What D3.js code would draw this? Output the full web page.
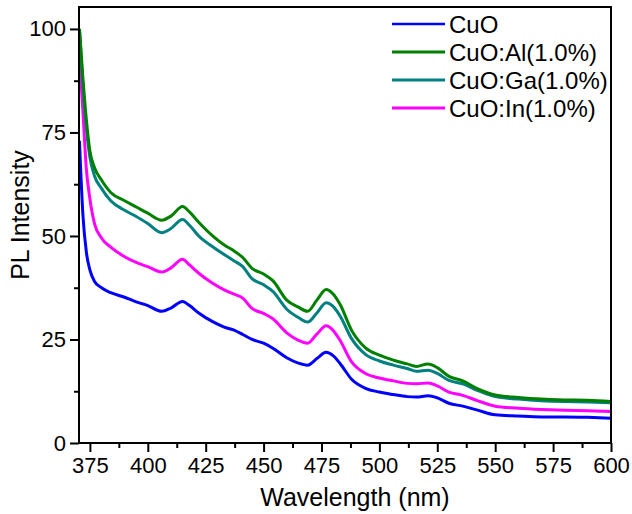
<!DOCTYPE html>
<html>
<head>
<meta charset="utf-8">
<script src="https://cdn.jsdelivr.net/npm/d3@7"></script>
<style>
  html, body { margin: 0; padding: 0; background: #fff; }
  svg { display: block; }
  text { font-family: "Liberation Sans", Arial, sans-serif; fill: #000; }
</style>
</head>
<body>
<svg id="chart" width="632" height="514"></svg>
<script>
// ---- data ----
const wavelengths = [370.5, 372, 373.5, 375, 377, 380, 384, 390, 395, 400, 406, 410, 415, 418, 422, 428, 433, 437, 441, 445, 450, 454, 460, 465, 469, 473, 477, 480, 483, 488, 494, 500, 506, 512, 516, 521, 525, 530, 536, 542, 550, 560, 570, 580, 590, 600];

const cuo = [73, 55, 46, 41.8, 39, 37.5, 36.3, 35.2, 34.1, 33.2, 31.8, 32.6, 34.2, 33.2, 31.4, 29.3, 28, 27.3, 26.2, 25, 24.1, 22.9, 20.6, 19.3, 18.8, 20.4, 21.9, 21.1, 19.2, 15.4, 13.2, 12.3, 11.7, 11.2, 11.1, 11.4, 10.9, 9.6, 8.9, 8, 6.8, 6.5, 6.3, 6.3, 6.2, 6];

const cuoAl = [100, 88, 78, 70.5, 66.5, 63.5, 60.5, 58.5, 57, 55.5, 53.8, 54.8, 57.1, 55.8, 53.3, 50, 47.8, 46.5, 44.8, 42.2, 40.8, 39.2, 34.5, 32.8, 31.8, 34.5, 37.1, 36, 33.5, 27.2, 23, 21.2, 20, 19.1, 18.5, 19.1, 18.2, 16.1, 15, 13.2, 11.6, 11, 10.6, 10.4, 10.3, 10];

const cuoGa = [100, 86, 76, 69, 64.5, 61.5, 58.5, 56.2, 54.7, 53, 50.8, 51.8, 54, 52.6, 50, 47.4, 45.5, 44.1, 42.6, 39.7, 38.2, 36.6, 32.3, 30.3, 29.2, 31.4, 33.9, 33, 30.7, 25.2, 21.4, 19.8, 18.8, 18, 17.3, 17.6, 16.8, 15.1, 14.3, 12.8, 11.2, 10.6, 10.2, 10, 9.9, 9.7];

const cuoIn = [93, 80, 66, 59, 53, 49.5, 47.3, 45, 43.6, 42.6, 41.3, 42.3, 44.4, 43, 41, 38.6, 37, 36, 35, 32.5, 31.3, 30, 26.6, 24.8, 24.1, 26.3, 28.3, 27.2, 24.8, 19.6, 16.8, 15.7, 15, 14.4, 14.3, 14.5, 13.8, 12.3, 11.5, 10.3, 8.9, 8.4, 8.1, 7.9, 7.8, 7.6];

const seriesNames = ["CuO", "CuO:Al(1.0%)", "CuO:Ga(1.0%)", "CuO:In(1.0%)"];
const seriesValues = [cuo, cuoAl, cuoGa, cuoIn];
const seriesColors = ["#0000ff", "#008000", "#008080", "#ff00ff"];

const xTicks = [375, 400, 425, 450, 475, 500, 525, 550, 575, 600];
const xMinorTicks = [387.5, 412.5, 437.5, 462.5, 487.5, 512.5, 537.5, 562.5, 587.5];
const yTicks = [0, 25, 50, 75, 100];
const yMinorTicks = [12.5, 37.5, 62.5, 87.5];

// ---- layout ----
const W = 632, H = 514;
const margin = { left: 79, right: 21, top: 7, bottom: 71 };
const iw = W - margin.left - margin.right;
const ih = H - margin.top - margin.bottom;

const svg = d3.select("#chart");
const g = svg.append("g").attr("transform", `translate(${margin.left},${margin.top})`);

const x = d3.scaleLinear().domain([370.3, 600]).range([0, iw]);
const y = d3.scaleLinear().domain([0, 105.3]).range([ih, 0]);

// clip
svg.append("defs").append("clipPath").attr("id", "clip")
  .append("rect").attr("x", 0).attr("y", 0).attr("width", iw).attr("height", ih);

// lines
const line = d3.line()
  .x((d, i) => x(wavelengths[i]))
  .y(d => y(d))
  .curve(d3.curveMonotoneX);

const plot = g.append("g").attr("clip-path", "url(#clip)");
// draw order: CuO, In, Ga, Al (Al on top)
[0, 3, 2, 1].forEach(k => {
  plot.append("path")
    .datum(seriesValues[k])
    .attr("fill", "none")
    .attr("stroke", seriesColors[k])
    .attr("stroke-width", 3)
    .attr("stroke-linejoin", "round")
    .attr("d", line);
});

// frame
g.append("rect").attr("x", 0).attr("y", 0).attr("width", iw).attr("height", ih)
  .attr("fill", "none").attr("stroke", "#000").attr("stroke-width", 2);

// x axis
const xAxis = g.append("g").attr("transform", `translate(0,${ih})`)
  .call(d3.axisBottom(x).tickValues(xTicks).tickFormat(d3.format("d")).tickSize(9).tickPadding(5));
const xMinor = g.append("g").attr("transform", `translate(0,${ih})`)
  .call(d3.axisBottom(x).tickValues(xMinorTicks).tickFormat("").tickSize(5));

// y axis
const yAxis = g.append("g")
  .call(d3.axisLeft(y).tickValues(yTicks).tickFormat(d3.format("d")).tickSize(9).tickPadding(4));
const yMinor = g.append("g")
  .call(d3.axisLeft(y).tickValues(yMinorTicks).tickFormat("").tickSize(5));

[xAxis, xMinor, yAxis, yMinor].forEach(a => {
  a.select(".domain").remove();
  a.selectAll(".tick line").attr("stroke", "#000").attr("stroke-width", 2);
  a.selectAll(".tick text").attr("font-family", "'Liberation Sans', Arial, sans-serif")
    .attr("font-size", 22).attr("fill", "#000");
});

// axis titles
svg.append("text")
  .attr("x", 355).attr("y", 506)
  .attr("text-anchor", "middle")
  .attr("font-size", 25)
  .text("Wavelength (nm)");

svg.append("text")
  .attr("transform", "translate(29,215) rotate(-90)")
  .attr("text-anchor", "middle")
  .attr("font-size", 25)
  .text("PL Intensity");

// legend
const legendRows = [24, 52, 80, 108];
const legend = svg.append("g");
seriesNames.forEach((name, i) => {
  const ly = legendRows[i];
  legend.append("line")
    .attr("x1", 392).attr("x2", 445).attr("y1", ly).attr("y2", ly)
    .attr("stroke", seriesColors[i]).attr("stroke-width", i === 0 ? 2.5 : 3);
  legend.append("text")
    .attr("x", 449).attr("y", ly).attr("dy", "0.36em")
    .attr("font-size", 24)
    .text(name);
});
</script>
</body>
</html>
